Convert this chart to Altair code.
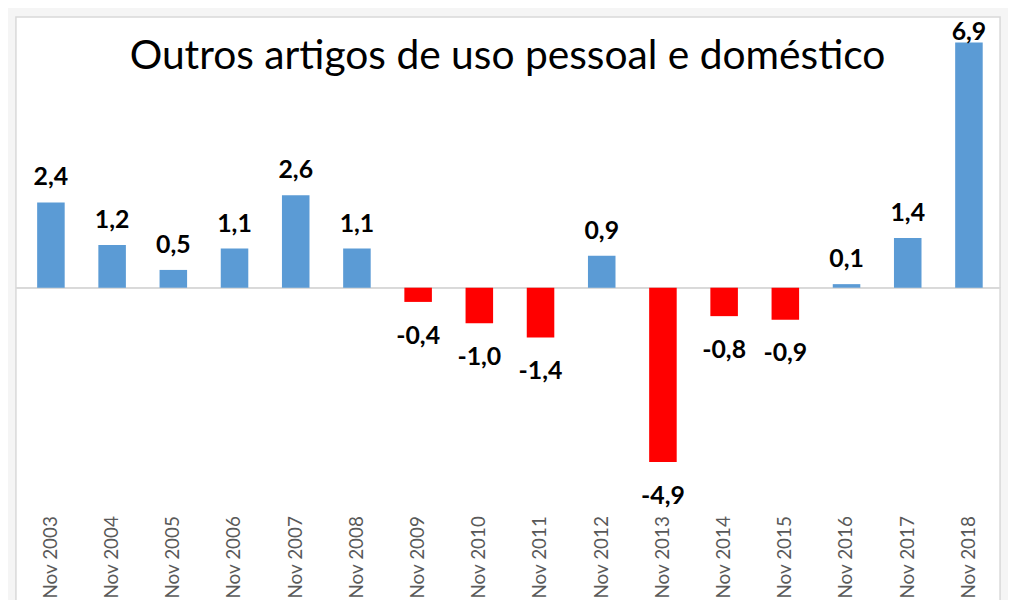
import altair as alt
import pandas as pd

years = ["Nov 2003", "Nov 2004", "Nov 2005", "Nov 2006", "Nov 2007", "Nov 2008",
         "Nov 2009", "Nov 2010", "Nov 2011", "Nov 2012", "Nov 2013", "Nov 2014",
         "Nov 2015", "Nov 2016", "Nov 2017", "Nov 2018"]
values = [2.4, 1.2, 0.5, 1.1, 2.6, 1.1, -0.4, -1.0, -1.4, 0.9, -4.9, -0.8, -0.9, 0.1, 1.4, 6.9]
title_text = "Outros artigos de uso pessoal e doméstico"

BLUE = "#5B9BD5"
RED = "#FF0000"
FONT = "Lato"

df = pd.DataFrame({
    "ano": years,
    "v": values,
    "lab": [f"{v:.1f}".replace(".", ",") for v in values],
    "t": [title_text] * len(years),
})

W, H = 991, 600
x = alt.X("ano:N", sort=years,
          scale=alt.Scale(paddingInner=0.55, paddingOuter=0.315, align=0.55),
          axis=alt.Axis(title=None, labelAngle=-90, labelFont=FONT, labelFontSize=19,
                        labelColor="#595959", ticks=False, domain=False,
                        labelPadding=0, offset=-98, grid=False))
yscale = alt.Scale(domain=[-9.148, 7.612], nice=False, zero=False)

base = alt.Chart(df)

zero = base.mark_rule(color="#d9d9d9", strokeWidth=1.5).encode(
    y=alt.Y("z:Q", scale=yscale, axis=None)
).transform_calculate(z="0")

bars = base.mark_bar().encode(
    x=x,
    y=alt.Y("v:Q", scale=yscale, axis=None),
    y2=alt.datum(0),
    color=alt.condition(alt.datum.v >= 0, alt.value(BLUE), alt.value(RED)),
)

pos_labels = base.transform_filter(alt.datum.v >= 0).transform_calculate(
    ly="min(datum.v, 6.5)"
).mark_text(font=FONT, fontWeight="bold", fontSize=25, color="#000000",
            baseline="alphabetic", dy=-17).encode(
    x=x, y=alt.Y("ly:Q", scale=yscale, axis=None), text="lab:N")

neg_labels = base.transform_filter(alt.datum.v < 0).mark_text(
    font=FONT, fontWeight="bold", fontSize=25, color="#000000",
    baseline="top", dy=22).encode(
    x=x, y=alt.Y("v:Q", scale=yscale, axis=None), text="lab:N")

title = base.transform_filter(alt.datum.ano == years[0]).mark_text(
    font=FONT, fontSize=41, color="#000000", baseline="alphabetic", align="center"
).encode(x=alt.value(495), y=alt.value(52), text="t:N")

chart = alt.layer(zero, bars, pos_labels, neg_labels, title).properties(
    width=W, height=H, padding=7, background="#f5f5f5",
).configure_view(stroke="#d9d9d9", strokeWidth=1.5, fill="#ffffff")

chart.save("out.html", embed_options={"renderer": "svg", "actions": False})
